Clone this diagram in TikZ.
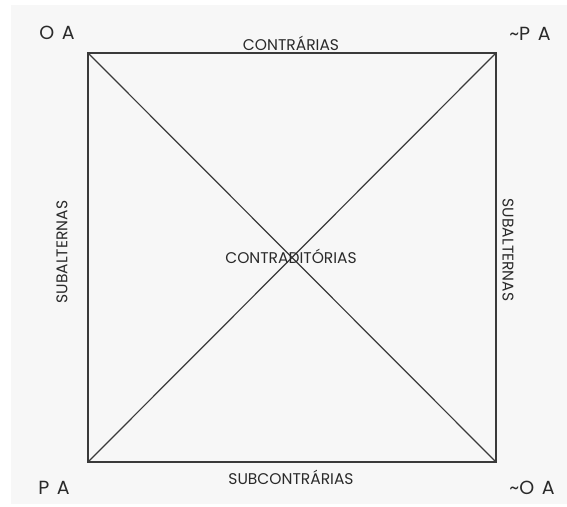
\documentclass[tikz,border=0pt]{standalone}
\usepackage{fontspec}
\setmainfont{Poppins}
\definecolor{bgc}{HTML}{F7F7F7}
\definecolor{linec}{HTML}{3A3A3A}
\definecolor{txtc}{HTML}{2A2A2A}
\begin{document}
\begin{tikzpicture}[x=1pt,y=-1pt,
  edge/.style={draw=linec,line width=1.2pt},
  cornerlbl/.style={text=txtc,font=\fontsize{19}{19}\selectfont,inner sep=0pt},
  sidelbl/.style={text=txtc,font=\fontsize{15.5}{15.5}\selectfont,inner sep=0pt}]
\useasboundingbox (0,0) rectangle (567,506);
\fill[white] (0,0) rectangle (567,506);
\fill[bgc] (11,5) rectangle (567,504);
\coordinate (tl) at (88,53);
\coordinate (tr) at (496,53);
\coordinate (bl) at (88,462);
\coordinate (br) at (496,462);
\draw[edge] (tl) -- (tr) -- (br) -- (bl) -- cycle;
\draw[edge] (tl) -- (br);
\draw[edge] (tr) -- (bl);
\node[cornerlbl] (oa) at (57,33) {O\hspace{0.4em}A};
\node[cornerlbl] (npa) at (530,34) {\char"7E P\hspace{0.4em}A};
\node[cornerlbl] (pa) at (54,488) {P\hspace{0.4em}A};
\node[cornerlbl] (noa) at (532,488) {\char"7E O\hspace{0.4em}A};
\node[sidelbl] (contr) at (291,43) {CONTRÁRIAS};
\node[sidelbl] (subc) at (291,477) {SUBCONTRÁRIAS};
\node[sidelbl] (contrad) at (291,256) {CONTRADITÓRIAS};
\node[sidelbl,rotate=90] (subl) at (62,252) {SUBALTERNAS};
\node[sidelbl,rotate=-90] (subr) at (508,250) {SUBALTERNAS};
\end{tikzpicture}
\end{document}
